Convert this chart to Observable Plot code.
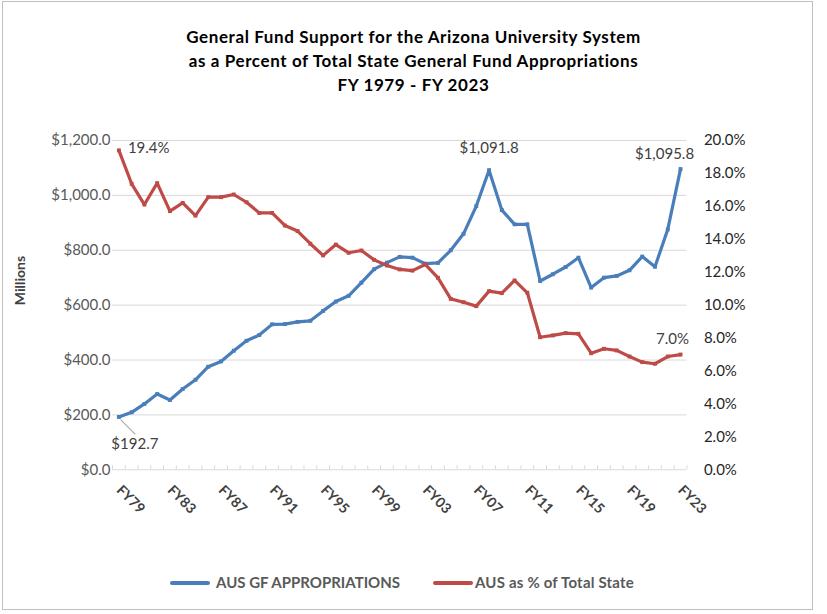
<!DOCTYPE html>
<html><head><meta charset="utf-8">
<script src="https://cdn.jsdelivr.net/npm/d3@7"></script>
<script src="https://cdn.jsdelivr.net/npm/@observablehq/plot@0.6"></script>
<style>
body{margin:0;background:#fff;font-family:Lato,"Open Sans",sans-serif;}
#wrap{position:relative;width:827px;height:614px;overflow:hidden;background:#fff}
#border{position:absolute;left:2px;top:1px;width:811px;height:609px;border:1px solid #bfbfbf;box-sizing:border-box}
#title{position:absolute;left:0;width:827px;top:25px;text-align:center;font-weight:bold;font-size:17px;letter-spacing:0.6px;line-height:24px;color:#000}
#chart{position:absolute;left:0;top:0}
.leg{position:absolute;top:573px;font-size:15px;font-weight:bold;color:#595959;line-height:18px;white-space:nowrap}
.sw{position:absolute;top:8px;height:4px;width:40px;border-radius:2px}
</style></head>
<body>
<div id="wrap">
  <div id="border"></div>
  <div id="title">General Fund Support for the Arizona University System<br>as a Percent of Total State General Fund Appropriations<br>FY 1979 - FY 2023</div>
  <div id="chart"></div>
  <div class="leg" style="left:170px"><span class="sw" style="left:0;background:#4a7ebb"></span><span style="margin-left:46px">AUS GF APPROPRIATIONS</span></div>
  <div class="leg" style="left:433px"><span class="sw" style="left:0;background:#be4b48"></span><span style="margin-left:42px;letter-spacing:0.2px">AUS as % of Total State</span></div>
</div>
<script>
const fiscalYears = [1979,1980,1981,1982,1983,1984,1985,1986,1987,1988,1989,1990,1991,1992,1993,1994,1995,1996,1997,1998,1999,2000,2001,2002,2003,2004,2005,2006,2007,2008,2009,2010,2011,2012,2013,2014,2015,2016,2017,2018,2019,2020,2021,2022,2023];
const appropriations = [192.7,209.5,240,276,254.5,294.5,328,375.6,395,434,470,491,530,531,539,543,579,613,634,682,731,755,776,773,751,754,800,860,961,1091.8,946.5,894.5,894.5,688,712.7,739,773,664,700,706.5,727,777,740,876,1095.8];
const percentOfState = [19.4,17.37,16.11,17.41,15.71,16.21,15.44,16.56,16.56,16.72,16.25,15.6,15.6,14.84,14.5,13.73,13.02,13.68,13.18,13.32,12.75,12.41,12.17,12.1,12.47,11.66,10.38,10.18,9.94,10.85,10.73,11.5,10.75,8.05,8.16,8.3,8.26,7.08,7.35,7.25,6.88,6.54,6.44,6.88,7.0];
const leftTicks = [0,200,400,600,800,1000,1200];
const rightTicks = [0,2,4,6,8,10,12,14,16,18,20];
const labelYears = [1979,1983,1987,1991,1995,1999,2003,2007,2011,2015,2019,2023];

const blue = "#4a7ebb", red = "#be4b48";
const pctMax = 20, dollarMax = 1200, k = dollarMax / pctMax;
const rows = fiscalYears.map((year, i) => ({year, appr: appropriations[i], pct: percentOfState[i]}));
const boundaries = fiscalYears.map(y => y - 0.5).concat([fiscalYears[fiscalYears.length - 1] + 0.5]);
const last = rows[rows.length - 1], first = rows[0];
const peak = rows.find(d => d.year === 2008);

const W = 827, H = 540;
const chart = Plot.plot({
  width: W, height: H,
  marginLeft: 112, marginRight: W - 686.4, marginTop: 140, marginBottom: H - 469.3,
  x: {domain: [1978.5, 2023.5]},
  y: {domain: [0, dollarMax]},
  style: {fontFamily: "Lato, sans-serif", background: "transparent", overflow: "visible"},
  marks: [
    Plot.gridY(leftTicks, {stroke: "#d9d9d9", strokeOpacity: 1}),
    Plot.axisY(leftTicks, {anchor: "left", tickSize: 0, tickPadding: 2, tickFormat: d => "$" + d3.format(",.1f")(d), fill: "#595959", fontSize: 15, letterSpacing: 0.6, label: null}),
    Plot.axisY(rightTicks.map(p => p * k), {anchor: "right", tickSize: 0, tickPadding: 17, tickFormat: d => (d / k).toFixed(1) + "%", fill: "#262626", fontSize: 15, letterSpacing: 0.5, label: null}),
    Plot.axisX(boundaries, {tickSize: -4, stroke: "#d9d9d9", tickFormat: () => "", label: null}),
    Plot.axisX(labelYears, {tickSize: 0, tickRotate: 45, tickPadding: 18, tickFormat: d => "FY" + String(d).slice(2), fontWeight: "bold", fontSize: 14, letterSpacing: 0.3, fill: "#404040", label: null}),
    Plot.text(["Millions"], {frameAnchor: "left", dx: -92, rotate: -90, fontWeight: "bold", fontSize: 14, fill: "#404040"}),
    Plot.line(rows, {x: "year", y: "appr", stroke: blue, strokeWidth: 3.2}),
    Plot.dot(rows, {x: "year", y: "appr", symbol: "square", r: 2.2, fill: blue}),
    Plot.line(rows, {x: "year", y: d => d.pct * k, stroke: red, strokeWidth: 3.2}),
    Plot.dot(rows, {x: "year", y: d => d.pct * k, symbol: "square", r: 2.2, fill: red}),
    Plot.vector([first], {x: "year", y: "appr", length: 20, rotate: 135, anchor: "start", stroke: "#a6a6a6", strokeWidth: 1, dx: 2, dy: 3,
      shape: {draw(ctx, l) { ctx.moveTo(0, 0); ctx.lineTo(0, -l); }}}),
    Plot.text([first], {x: "year", y: "appr", text: d => "$" + d.appr.toFixed(1), dx: 16, dy: 27, fontSize: 15, letterSpacing: 0.4, fill: "#404040"}),
    Plot.text([first], {x: "year", y: d => d.pct * k, text: d => d.pct.toFixed(1) + "%", textAnchor: "start", dx: 9, dy: -2, fontSize: 15, letterSpacing: 0.4, fill: "#404040"}),
    Plot.text([peak], {x: "year", y: "appr", text: d => "$" + d3.format(",.1f")(d.appr), dx: 0, dy: -22, fontSize: 15, letterSpacing: 0.4, fill: "#404040"}),
    Plot.text([last], {x: "year", y: "appr", text: d => "$" + d3.format(",.1f")(d.appr), dx: -16, dy: -15, fontSize: 15, letterSpacing: 0.4, fill: "#404040"}),
    Plot.text([last], {x: "year", y: d => d.pct * k, text: d => d.pct.toFixed(1) + "%", dx: -8, dy: -15, fontSize: 15, letterSpacing: 0.4, fill: "#404040"})
  ]
});
document.getElementById("chart").appendChild(chart);
</script>
</body></html>
